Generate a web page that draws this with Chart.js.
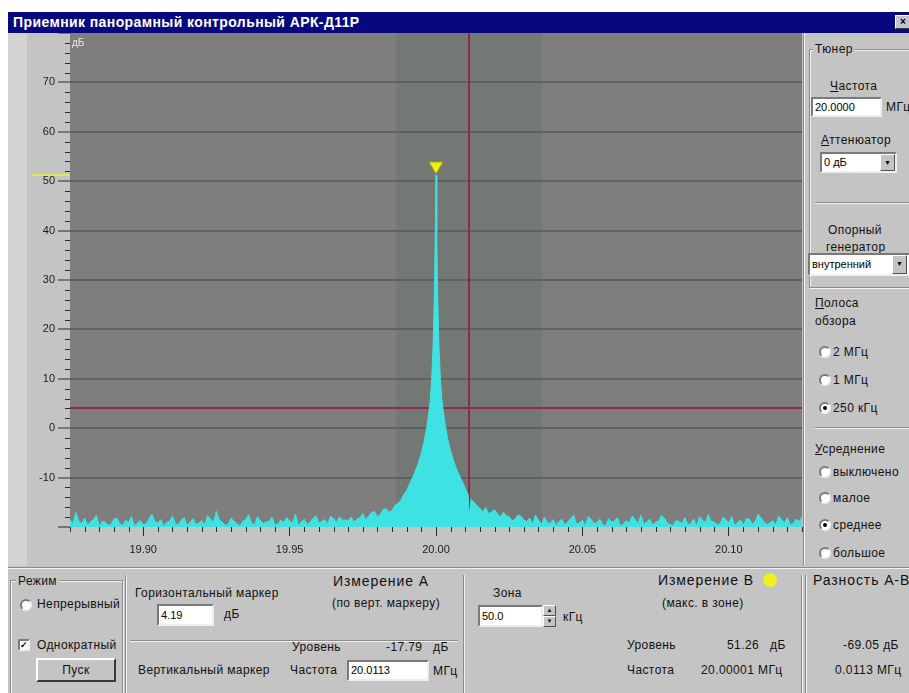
<!DOCTYPE html>
<html lang="ru">
<head>
<meta charset="utf-8">
<title>Приемник панорамный контрольный АРК-Д11Р</title>
<script src="https://cdn.jsdelivr.net/npm/chart.js@4.4.1/dist/chart.umd.min.js"></script>
<style>
  html, body { margin: 0; padding: 0; }
  body { width: 909px; height: 693px; overflow: hidden; background: #fff; position: relative;
         font: 12px "Liberation Sans", Arial, sans-serif; color: #111; }
  .abs { position: absolute; }
  #win { left: 8px; top: 12px; width: 901px; height: 681px; background: #c4c4c4; }
  #leftStrip { left: 8px; top: 33px; width: 19px; height: 533px; background: #d3d3d3; }
  #title { left: 8px; top: 12px; width: 901px; height: 21px; background: #08087e; color: #fff;
           font-weight: bold; font-size: 14px; letter-spacing: 0.4px; line-height: 21px; text-indent: 5px; white-space: nowrap; }
  #close { left: 895px; top: 15px; width: 16px; height: 14px; box-sizing: border-box; background: #c4c4c4;
           border: 1px solid; border-color: #fff #404040 #404040 #fff; font: bold 10px/12px Arial, sans-serif;
           text-align: center; color: #000; }
  #plotBox { left: 8px; top: 33px; width: 795px; height: 533px; }
  .t { position: absolute; white-space: nowrap; line-height: 14px; margin-top: -7px; letter-spacing: 0.4px; }
  .h { font-size: 14px; letter-spacing: 0.9px; }
  .u::first-letter { text-decoration: underline; }
  .edit { position: absolute; box-sizing: border-box; background: #fff; border: 2px solid;
          border-color: #7a7a7a #efefef #efefef #7a7a7a; font-size: 11px; line-height: 16px;
          padding: 0 2px; color: #000; overflow: hidden; white-space: nowrap; }
  .drop { position: absolute; right: 0; top: 0; bottom: 0; width: 15px; box-sizing: border-box;
          background: #c4c4c4; border: 1px solid; border-color: #fff #505050 #505050 #fff;
          font-size: 7px; line-height: 15px; text-align: center; color: #000; }
  .spin { position: absolute; box-sizing: border-box; background: #c4c4c4; border: 1px solid;
          border-color: #fff #505050 #505050 #fff; font-size: 6px; line-height: 9px; text-align: center; }
  .rb { position: absolute; width: 12px; height: 12px; margin-top: -6px; box-sizing: border-box;
        border-radius: 50%; background: #fff; border: 2px solid; border-color: #7a7a7a #f0f0f0 #f0f0f0 #7a7a7a; }
  .rb.on::after { content: ""; position: absolute; left: 2px; top: 2px; width: 4px; height: 4px;
                  border-radius: 50%; background: #000; }
  .cb { position: absolute; width: 12px; height: 12px; margin-top: -6px; box-sizing: border-box;
        background: #fff; border: 2px solid; border-color: #7a7a7a #f0f0f0 #f0f0f0 #7a7a7a;
        font: bold 9px/8px Arial, sans-serif; text-align: center; color: #000; }
  .btn { position: absolute; box-sizing: border-box; background: #c4c4c4; border: 2px solid;
         border-color: #fff #3a3a3a #3a3a3a #fff; text-align: center; line-height: 20px; letter-spacing: 0.4px; }
  .hl { position: absolute; height: 1px; background: #8a8a8a; box-shadow: 0 1px 0 #f2f2f2; }
  .vl { position: absolute; width: 1px; background: #8a8a8a; box-shadow: 1px 0 0 #f2f2f2; }
  .grp { position: absolute; box-sizing: border-box; border: 1px solid #8a8a8a;
         box-shadow: inset 1px 1px 0 #f2f2f2, 1px 1px 0 #f2f2f2; }
  .lbl { background: #c4c4c4; padding: 0 2px; }
  #dot { left: 763px; top: 573px; width: 14px; height: 14px; border-radius: 50%; background: #f0f020; }
</style>
</head>
<body>
<div id="win" class="abs"></div>
<div id="leftStrip" class="abs"></div>
<div id="title" class="abs">Приемник панорамный контрольный АРК-Д11Р</div>
<div id="close" class="abs">×</div>

<div id="plotBox" class="abs"><canvas id="spectrum" width="795" height="533"></canvas></div>

<!-- right panel -->
<div class="vl" style="left:803px; top:33px; height:533px;"></div>
<div class="grp" style="left:809px; top:49px; width:110px; height:239px;"></div>
<div class="t lbl" style="left:813px; top:49px;">Тюнер</div>
<div class="t u" style="left:830px; top:86px;">Частота</div>
<div class="edit" style="left:811px; top:97px; width:71px; height:20px;">20.0000</div>
<div class="t" style="left:886px; top:107px;">МГц</div>
<div class="t u" style="left:821px; top:140px;">Аттенюатор</div>
<div class="edit" style="left:820px; top:152px; width:77px; height:21px;">0 дБ<div class="drop">▼</div></div>
<div class="hl" style="left:815px; top:202px; width:94px;"></div>
<div class="t" style="left:828px; top:230px;">Опорный</div>
<div class="t" style="left:826px; top:247px;">генератор</div>
<div class="edit" style="left:808px; top:253px; width:103px; height:23px; line-height:18px;">внутренний<div class="drop" style="right:2px;">▼</div></div>
<div class="t u" style="left:815px; top:303px;">Полоса</div>
<div class="t" style="left:815px; top:321px;">обзора</div>
<div class="rb" style="left:819px; top:352px;"></div><div class="t" style="left:833px; top:352px;">2 МГц</div>
<div class="rb" style="left:819px; top:380px;"></div><div class="t" style="left:833px; top:380px;">1 МГц</div>
<div class="rb on" style="left:819px; top:408px;"></div><div class="t" style="left:833px; top:408px;">250 кГц</div>
<div class="hl" style="left:815px; top:427px; width:94px;"></div>
<div class="t u" style="left:815px; top:449px;">Усреднение</div>
<div class="rb" style="left:819px; top:472px;"></div><div class="t" style="left:833px; top:472px;">выключено</div>
<div class="rb" style="left:819px; top:498px;"></div><div class="t" style="left:833px; top:498px;">малое</div>
<div class="rb on" style="left:819px; top:525px;"></div><div class="t" style="left:833px; top:525px;">среднее</div>
<div class="rb" style="left:819px; top:553px;"></div><div class="t" style="left:833px; top:553px;">большое</div>

<!-- bottom panel -->
<div class="hl" style="left:8px; top:567px; width:901px;"></div>
<div class="grp" style="left:10px; top:580px; width:113px; height:130px;"></div>
<div class="t lbl" style="left:16px; top:581px;">Режим</div>
<div class="rb" style="left:20px; top:605px;"></div><div class="t" style="left:37px; top:604px;">Непрерывный</div>
<div class="cb" style="left:18px; top:645px;">✓</div><div class="t" style="left:37px; top:645px;">Однократный</div>
<div class="btn" style="left:36px; top:658px; width:80px; height:24px;"><span class="u">Пуск</span></div>
<div class="vl" style="left:125px; top:575px; height:118px;"></div>

<div class="t" style="left:135px; top:593px;">Горизонтальный маркер</div>
<div class="edit" style="left:157px; top:604px; width:57px; height:22px; line-height:18px;">4.19</div>
<div class="t" style="left:224px; top:614px;">дБ</div>
<div class="hl" style="left:130px; top:640px; width:328px;"></div>
<div class="t" style="left:138px; top:670px;">Вертикальный маркер</div>

<div class="t h" style="left:333px; top:581px;">Измерение А</div>
<div class="t" style="left:332px; top:603px;">(по верт. маркеру)</div>
<div class="t" style="left:292px; top:647px;">Уровень</div>
<div class="t" style="left:386px; top:647px;">-17.79</div>
<div class="t" style="left:433px; top:647px;">дБ</div>
<div class="t" style="left:290px; top:670px;">Частота</div>
<div class="edit" style="left:347px; top:660px; width:82px; height:21px;">20.0113</div>
<div class="t" style="left:433px; top:671px;">МГц</div>
<div class="vl" style="left:463px; top:575px; height:118px;"></div>

<div class="t" style="left:493px; top:593px;">Зона</div>
<div class="edit" style="left:478px; top:605px; width:65px; height:22px; line-height:18px;">50.0</div>
<div class="spin" style="left:543px; top:605px; width:13px; height:11px;">▲</div>
<div class="spin" style="left:543px; top:616px; width:13px; height:11px;">▼</div>
<div class="t" style="left:563px; top:617px;">кГц</div>

<div class="t h" style="left:658px; top:580px;">Измерение В</div>
<div id="dot" class="abs"></div>
<div class="t" style="left:662px; top:603px;">(макс. в зоне)</div>
<div class="t" style="left:627px; top:645px;">Уровень</div>
<div class="t" style="left:727px; top:645px;">51.26</div>
<div class="t" style="left:770px; top:645px;">дБ</div>
<div class="t" style="left:627px; top:670px;">Частота</div>
<div class="t" style="left:701px; top:670px;">20.00001 МГц</div>
<div class="vl" style="left:801px; top:575px; height:118px;"></div>
<div class="vl" style="left:805px; top:575px; height:118px;"></div>

<div class="t h" style="left:813px; top:580px;">Разность А-В</div>
<div class="t" style="left:843px; top:645px;">-69.05 дБ</div>
<div class="t" style="left:835px; top:670px;">0.0113 МГц</div>

<script>
// spectrum, offsets in kHz from the 20 MHz centre, levels in dB
const noiseLeftKHz = [
  -125, -124, -123, -122, -121, -120, -119, -118, -117, -116,
  -115, -114, -113, -112, -111, -110, -109, -108, -107, -106,
  -105, -104, -103, -102, -101, -100, -99, -98, -97, -96,
  -95, -94, -93, -92, -91, -90, -89, -88, -87, -86,
  -85, -84, -83, -82, -81, -80, -79, -78, -77, -76,
  -75, -74, -73, -72, -71, -70, -69, -68, -67, -66,
  -65, -64, -63, -62, -61, -60, -59, -58, -57, -56,
  -55, -54, -53, -52, -51, -50, -49, -48, -47, -46,
  -45, -44, -43, -42, -41, -40, -39, -38, -37, -36,
  -35, -34, -33, -32, -31];
const noiseLeftDb = [
  -18.6, -19.4, -17.0, -18.8, -19.3, -18.2, -19.6, -19.0, -18.5, -17.6,
  -19.8, -18.9, -19.0, -19.6, -19.5, -18.4, -18.2, -19.3, -19.7, -18.6,
  -19.1, -17.9, -19.8, -19.2, -18.7, -19.5, -19.4, -18.3, -17.4, -18.9,
  -19.2, -18.5, -19.8, -19.1, -18.8, -17.8, -19.3, -19.6, -18.6, -18.1,
  -19.7, -19.0, -18.3, -19.5, -19.2, -18.7, -19.6, -17.7, -18.4, -19.1,
  -16.8, -18.6, -19.0, -19.7, -19.5, -18.2, -18.8, -19.3, -19.8, -18.9,
  -18.5, -17.5, -19.2, -19.6, -17.9, -18.7, -19.3, -19.0, -18.9, -18.0,
  -19.6, -19.4, -18.6, -19.1, -18.1, -18.8, -19.2, -17.4, -19.7, -19.0,
  -18.4, -19.5, -19.0, -18.3, -17.7, -19.2, -18.9, -18.5, -19.4, -17.8,
  -18.3, -19.1, -17.9, -18.6, -18.6];

const carrierKHz = [
  -30, -29, -28, -27, -26, -25, -24, -23, -22, -21, -20, -19, -18, -17, -16, -15,
  -14, -13, -12, -11, -10, -9, -8, -7, -6, -5, -4, -3, -2, -1.5, -1, -0.5, -0.25,
  0.01,
  0.25, 0.5, 1, 1.5, 2, 3, 4, 5, 6, 7, 8, 9, 10, 11, 11.3, 12, 13, 14, 15,
  16, 17, 18, 19, 20, 21, 22, 23, 24, 25, 26, 27, 28, 29, 30];
const carrierDb = [
  -18.7, -18.0, -19.0, -18.4, -18.1, -17.3, -18.5, -17.8, -17.0, -16.9, -17.9, -17.5, -16.4, -16.3, -17.0, -16.6,
  -15.6, -15.2, -14.6, -13.4, -12.6, -11.2, -10.0, -8.6, -7.0, -5.0, -2.6, 0.8, 5.4, 9.6, 16.5, 28.0, 39.5,
  51.26,
  40.0, 28.6, 16.8, 10.0, 5.8, 1.2, -2.2, -4.6, -6.6, -8.2, -9.6, -10.8, -12.2, -13.4, -17.79, -14.4, -15.0, -15.7, -16.2,
  -16.9, -16.0, -17.4, -16.9, -16.5, -17.3, -18.0, -17.0, -17.7, -17.9, -18.8, -18.4, -17.6, -17.8, -18.6];

const noiseRightKHz = [
  31, 32, 33, 34, 35, 36, 37, 38, 39, 40,
  41, 42, 43, 44, 45, 46, 47, 48, 49, 50,
  51, 52, 53, 54, 55, 56, 57, 58, 59, 60,
  61, 62, 63, 64, 65, 66, 67, 68, 69, 70,
  71, 72, 73, 74, 75, 76, 77, 78, 79, 80,
  81, 82, 83, 84, 85, 86, 87, 88, 89, 90,
  91, 92, 93, 94, 95, 96, 97, 98, 99, 100,
  101, 102, 103, 104, 105, 106, 107, 108, 109, 110,
  111, 112, 113, 114, 115, 116, 117, 118, 119, 120,
  121, 122, 123, 124, 125];
const noiseRightDb = [
  -18.9, -18.2, -19.4, -17.6, -18.6, -19.5, -18.0, -19.1, -19.3, -18.5,
  -19.7, -18.9, -18.4, -19.6, -19.0, -18.3, -17.6, -19.4, -19.2, -18.6,
  -19.8, -17.9, -18.5, -19.3, -19.1, -18.4, -19.6, -19.7, -18.3, -19.0,
  -18.8, -18.1, -19.8, -19.4, -18.7, -19.2, -17.8, -18.5, -19.3, -17.6,
  -19.5, -19.0, -18.4, -19.6, -19.0, -18.8, -17.7, -18.2, -19.2, -19.5,
  -19.7, -18.7, -18.9, -19.3, -18.1, -19.6, -19.3, -18.4, -19.8, -17.9,
  -18.6, -19.1, -17.5, -18.8, -19.0, -19.5, -19.4, -18.0, -18.5, -19.2,
  -17.9, -19.7, -19.1, -18.6, -19.6, -18.3, -18.4, -19.4, -18.9, -17.4,
  -18.2, -18.9, -19.5, -19.2, -18.7, -19.6, -17.8, -18.5, -19.2, -18.1,
  -19.6, -19.3, -18.4, -18.9, -17.9];

const centerMHz = 20.0;
const spanMHz = [19.875, 20.125];
const levelRange = [-20, 80];
const xTicks = [19.90, 19.95, 20.00, 20.05, 20.10];
const yTicks = [-20, -10, 0, 10, 20, 30, 40, 50, 60, 70, 80];

const hMarkerDb = 4.19;      // горизонтальный маркер
const vMarkerMHz = 20.0113;  // вертикальный маркер
const zoneKHz = 50.0;        // зона поиска максимума
const peakMHz = 20.00001;    // измерение B
const peakDb = 51.26;

const FONT = '"Liberation Sans", Arial, sans-serif';

const freqKHz = noiseLeftKHz.concat(carrierKHz, noiseRightKHz);
const levelDb = noiseLeftDb.concat(carrierDb, noiseRightDb);
const points = freqKHz.map((k, i) => ({ x: centerMHz + k / 1000, y: levelDb[i] }));

const panelPlugin = {
  id: 'panel',
  beforeDraw(chart) {
    const { ctx, chartArea: a, scales: { x } } = chart;
    ctx.save();
    ctx.fillStyle = '#7e7e7e';
    ctx.fillRect(a.left, a.top, a.width, a.height);
    // zone around the vertical marker
    const z0 = x.getPixelForValue(vMarkerMHz - zoneKHz / 2000);
    const z1 = x.getPixelForValue(vMarkerMHz + zoneKHz / 2000);
    ctx.fillStyle = '#747874';
    ctx.fillRect(z0, a.top, z1 - z0, a.height);
    ctx.restore();
  },
  beforeDatasetsDraw(chart) {
    const { ctx, chartArea: a, scales: { x, y } } = chart;
    ctx.save();
    ctx.strokeStyle = '#8e2a48';
    ctx.lineWidth = 2;
    const hy = Math.round(y.getPixelForValue(hMarkerDb));
    ctx.beginPath(); ctx.moveTo(a.left, hy); ctx.lineTo(a.right, hy); ctx.stroke();
    const vx = Math.round(x.getPixelForValue(vMarkerMHz));
    ctx.beginPath(); ctx.moveTo(vx, a.top); ctx.lineTo(vx, a.bottom); ctx.stroke();
    ctx.restore();
  },
  afterDraw(chart) {
    const { ctx, chartArea: a, scales: { x, y } } = chart;
    ctx.save();
    // minor ticks
    ctx.strokeStyle = '#2a2a2a';
    ctx.lineWidth = 1;
    ctx.beginPath();
    for (let v = levelRange[0]; v <= levelRange[1]; v += 2) {
      if (v % 10 === 0) continue;
      const py = Math.round(y.getPixelForValue(v)) + 0.5;
      ctx.moveTo(a.left - 5, py); ctx.lineTo(a.left, py);
    }
    for (let k = -125; k <= 125; k += 5) {
      if (k % 50 === 0) continue;
      const px = Math.round(x.getPixelForValue(centerMHz + k / 1000)) + 0.5;
      ctx.moveTo(px, a.bottom); ctx.lineTo(px, a.bottom + 5);
    }
    ctx.stroke();

    // peak marker (B)
    const px = x.getPixelForValue(peakMHz);
    const py = y.getPixelForValue(peakDb);
    ctx.fillStyle = '#f0f010';
    ctx.strokeStyle = '#9a9a20';
    ctx.beginPath();
    ctx.moveTo(px, py - 1);
    ctx.lineTo(px - 7, py - 13);
    ctx.lineTo(px + 7, py - 13);
    ctx.closePath();
    ctx.fill(); ctx.stroke();

    // level of B on the scale
    ctx.strokeStyle = 'rgba(232,236,70,0.9)';
    ctx.lineWidth = 2;
    ctx.beginPath();
    ctx.moveTo(24, Math.round(py)); ctx.lineTo(a.left - 1, Math.round(py));
    ctx.stroke();

    ctx.fillStyle = '#e8e8e8';
    ctx.font = '10px ' + FONT;
    ctx.textBaseline = 'top';
    ctx.fillText('дБ', a.left + 2, a.top + 5);
    ctx.restore();
  }
};

new Chart(document.getElementById('spectrum'), {
  type: 'line',
  data: {
    datasets: [{
      data: points,
      borderColor: '#3fe2e2',
      backgroundColor: '#3fe2e2',
      borderWidth: 1,
      pointRadius: 0,
      tension: 0,
      fill: 'start'
    }]
  },
  options: {
    responsive: false,
    animation: false,
    devicePixelRatio: 1,
    layout: { padding: { top: 0, right: 1, bottom: 0, left: 0 } },
    plugins: { legend: { display: false }, tooltip: { enabled: false } },
    scales: {
      x: {
        type: 'linear',
        min: spanMHz[0],
        max: spanMHz[1],
        afterBuildTicks: s => { s.ticks = xTicks.map(v => ({ value: v })); },
        afterFit: s => { s.height = 39; s.paddingLeft = 0; s.paddingRight = 0; },
        border: { display: false },
        grid: { drawOnChartArea: false, tickLength: 9, tickColor: '#2a2a2a' },
        ticks: {
          padding: 7, color: '#1a1a1a', maxRotation: 0, autoSkip: false,
          font: { family: FONT, size: 11 },
          callback: v => v.toFixed(2)
        }
      },
      y: {
        min: levelRange[0],
        max: levelRange[1],
        afterBuildTicks: s => { s.ticks = yTicks.map(v => ({ value: v })); },
        afterFit: s => { s.width = 62; s.paddingTop = 0; s.paddingBottom = 0; },
        border: { display: false },
        grid: {
          color: c => (c.tick && (c.tick.value === levelRange[0] || c.tick.value === levelRange[1])) ? 'rgba(0,0,0,0)' : '#606060',
          lineWidth: 2,
          tickLength: 12,
          tickColor: '#2a2a2a',
          tickWidth: 1
        },
        ticks: {
          padding: 3, color: '#1a1a1a', autoSkip: false,
          font: { family: FONT, size: 11 },
          callback: v => (v === levelRange[0] || v === levelRange[1]) ? '' : v
        }
      }
    }
  },
  plugins: [panelPlugin]
});
</script>
</body>
</html>
